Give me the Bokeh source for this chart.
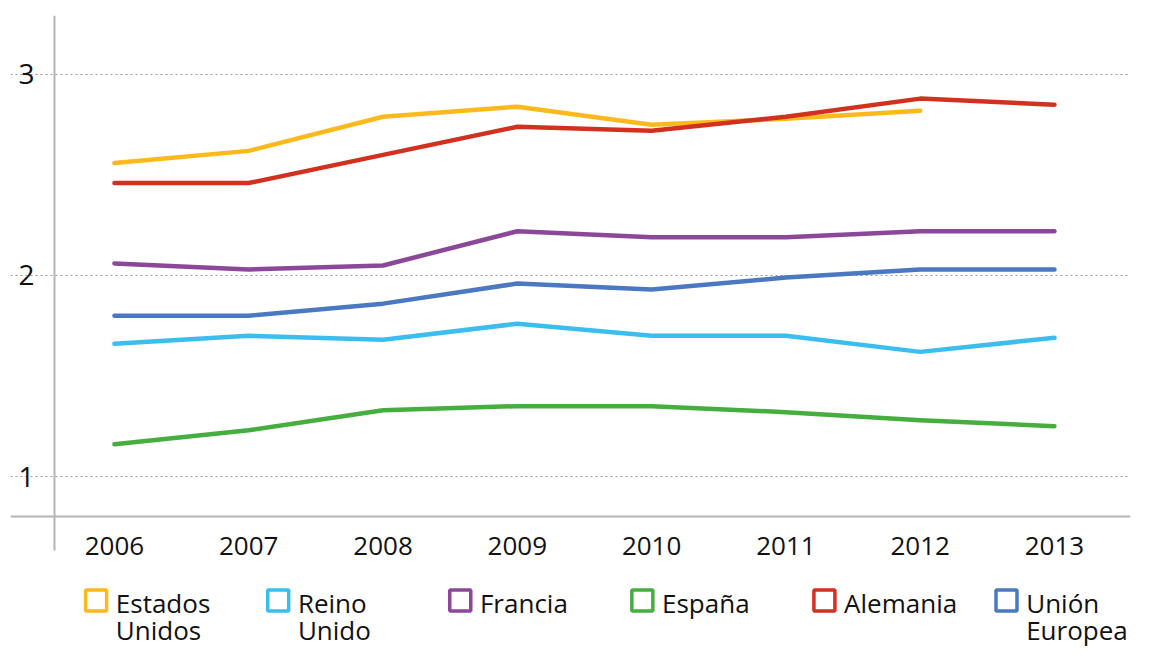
from bokeh.plotting import figure
from bokeh.models import Range1d, FixedTicker
from bokeh.layouts import column
from bokeh.embed import file_html
from bokeh.resources import INLINE
from bokeh.core.properties import value

# ---------------- data ----------------
years = [2006, 2007, 2008, 2009, 2010, 2011, 2012, 2013]
year_labels = ["2006", "2007", "2008", "2009", "2010", "2011", "2012", "2013"]
y_ticks = [1, 2, 3]

estados_unidos = [2.56, 2.62, 2.79, 2.84, 2.75, 2.78, 2.82]          # no 2013
reino_unido    = [1.66, 1.70, 1.68, 1.76, 1.70, 1.70, 1.62, 1.69]
francia        = [2.06, 2.03, 2.05, 2.22, 2.19, 2.19, 2.22, 2.22]
espana         = [1.16, 1.23, 1.33, 1.35, 1.35, 1.32, 1.28, 1.25]
alemania       = [2.46, 2.46, 2.60, 2.74, 2.72, 2.79, 2.88, 2.85]
union_europea  = [1.80, 1.80, 1.86, 1.96, 1.93, 1.99, 2.03, 2.03]

series_names = ["Estados Unidos", "Reino Unido", "Francia", "España", "Alemania", "Unión Europea"]
series_values = [estados_unidos, reino_unido, francia, espana, alemania, union_europea]
series_colors = ["#FBB91C", "#3BBDEE", "#8B4898", "#46AE3E", "#D2311F", "#4A78C1"]

FONT = "Open Sans"
AXIS_GRAY = "#B4B4BA"
TEXT = "#111111"

# ---------------- main chart ----------------
p = figure(width=1138, height=568,
           x_range=Range1d(2005.226, 2013.566),
           y_range=Range1d(0.5423, 3.2935),
           output_backend="svg", toolbar_location=None,
           min_border_left=10, min_border_right=8,
           min_border_top=15, min_border_bottom=0)
p.outline_line_color = None
p.background_fill_color = "white"
p.border_fill_color = "white"

draw_order = [5, 1, 2, 3, 0, 4]
for i in draw_order:
    ys = series_values[i]
    p.line(years[:len(ys)], ys, line_color=series_colors[i], line_width=4.5,
           line_cap="round", line_join="round")

# y axis (fixed inside the frame)
yax = p.yaxis[0]
yax.fixed_location = 2005.553
yax.bounds = (0.6318, 3.2935)
yax.ticker = FixedTicker(ticks=y_ticks)
yax.axis_line_color = AXIS_GRAY
yax.axis_line_width = 2
yax.major_tick_line_color = None
yax.minor_tick_line_color = None
yax.major_label_standoff = 14
yax.major_label_text_font = FONT
yax.major_label_text_font_size = "28px"
yax.major_label_text_color = TEXT

# x axis (fixed inside the frame)
xax = p.xaxis[0]
xax.fixed_location = 0.801
xax.ticker = FixedTicker(ticks=years)
xax.major_label_overrides = {y: l for y, l in zip(years, year_labels)}
xax.axis_line_color = AXIS_GRAY
xax.axis_line_width = 2
xax.major_tick_line_color = None
xax.minor_tick_line_color = None
xax.major_label_standoff = 14
xax.major_label_text_font = FONT
xax.major_label_text_font_size = "26px"
xax.major_label_text_color = TEXT

p.xgrid.visible = False
p.ygrid.ticker = FixedTicker(ticks=y_ticks)
p.ygrid.grid_line_color = "#9A9A9A"
p.ygrid.grid_line_dash = "2 3"
p.ygrid.grid_line_width = 1

# ---------------- legend strip ----------------
lg = figure(width=1138, height=80, x_range=Range1d(0, 1138), y_range=Range1d(80, 0),
            output_backend="svg", toolbar_location=None, min_border=0)
lg.axis.visible = False
lg.grid.visible = False
lg.outline_line_color = None

item_start, item_step, sq_y, gap = 87.0, 185.0, 32.0, 20
sq_x = [item_start + k * item_step for k in range(len(series_names))]
lg.scatter(sq_x, [sq_y] * len(sq_x), marker="square", size=21,
           fill_color=None, line_color=series_colors, line_width=3.5)

l1_x, l1_t, l2_x, l2_t = [], [], [], []
for k, name in enumerate(series_names):
    parts = name.split(" ")
    l1_x.append(sq_x[k] + gap)
    l1_t.append(parts[0])
    if len(parts) > 1:
        l2_x.append(sq_x[k] + gap)
        l2_t.append(" ".join(parts[1:]))
lg.text(l1_x, [34] * len(l1_x), text=l1_t, text_font=value(FONT),
        text_font_size="26px", text_baseline="middle", text_color=TEXT)
lg.text(l2_x, [61] * len(l2_x), text=l2_t, text_font=value(FONT),
        text_font_size="26px", text_baseline="middle", text_color=TEXT)

layout = column(p, lg, spacing=0)
open("out.html", "w").write(file_html(layout, INLINE))
